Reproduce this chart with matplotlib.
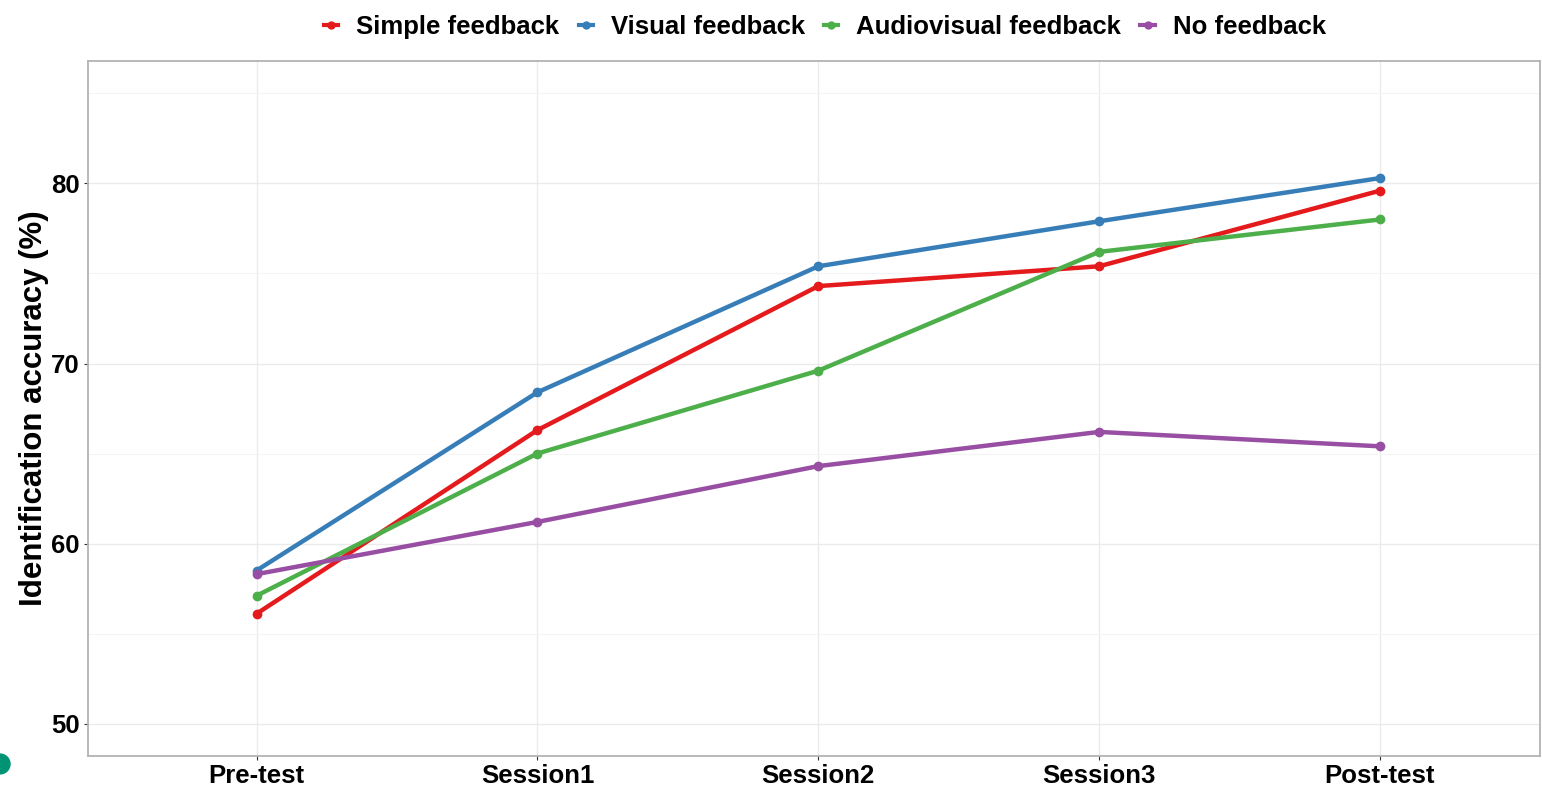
import matplotlib
matplotlib.use("Agg")
import matplotlib.pyplot as plt
from matplotlib.lines import Line2D
from matplotlib.patches import Ellipse

plt.rcParams['font.family'] = ['Liberation Sans', 'DejaVu Sans']
plt.rcParams['font.weight'] = 'bold'

# data
sessions = ["Pre-test", "Session1", "Session2", "Session3", "Post-test"]
simple_fb = [56.1, 66.3, 74.3, 75.4, 79.6]
visual_fb = [58.5, 68.4, 75.4, 77.9, 80.3]
audiovisual_fb = [57.1, 65.0, 69.6, 76.2, 78.0]
no_fb = [58.3, 61.2, 64.3, 66.2, 65.4]

groups = ["Simple feedback", "Visual feedback", "Audiovisual feedback", "No feedback"]
colors = ["#E41A1C", "#377EB8", "#4DAF4A", "#984EA3"]
series = [simple_fb, visual_fb, audiovisual_fb, no_fb]

fig = plt.figure(figsize=(15.42, 7.93), dpi=100)
ax = fig.add_axes([0.0571, 0.0467, 0.9416, 0.8763])

x = list(range(len(sessions)))
for vals, col, name in zip(series, colors, groups):
    ax.plot(x, vals, color=col, lw=3.2, marker="o", ms=6, label=name, zorder=3)

ax.set_xlim(-0.6, 4.57)
ax.set_ylim(48.2, 86.8)
ax.set_yticks([50, 60, 70, 80])
ax.set_yticks([55, 65, 75, 85], minor=True)
ax.set_xticks(x)
ax.set_xticklabels(sessions)

ax.grid(True, which="major", color="#EBEBEB", lw=1.0)
ax.grid(True, which="minor", axis="y", color="#F4F4F4", lw=0.8)
ax.set_axisbelow(True)
for s in ax.spines.values():
    s.set_color("#B3B3B3")
    s.set_linewidth(1.3)

ax.tick_params(axis="both", which="major", labelsize=18.5, length=3, color="#333333", pad=3)
ax.tick_params(axis="y", which="minor", length=0)
for lab in ax.get_xticklabels() + ax.get_yticklabels():
    lab.set_fontweight("bold")

ax.set_ylabel("Identification accuracy (%)", fontsize=22.5, fontweight="bold", labelpad=1.5)

handles = [Line2D([0], [0], color=c, lw=3, marker="o", ms=5) for c in colors]
fig.legend(handles, groups, loc="upper center", bbox_to_anchor=(0.535, 1.01), ncol=4,
           frameon=False, handlelength=0.55, handletextpad=0.7,
           columnspacing=0.75, prop={"weight": "bold", "size": 18.5})

# small green dot at bottom-left corner in the reference
fig.patches.append(Ellipse((0.0, 0.0366), 0.013, 0.025, transform=fig.transFigure,
                           color="#009474", figure=fig))

fig.savefig("out.png", dpi=100)
